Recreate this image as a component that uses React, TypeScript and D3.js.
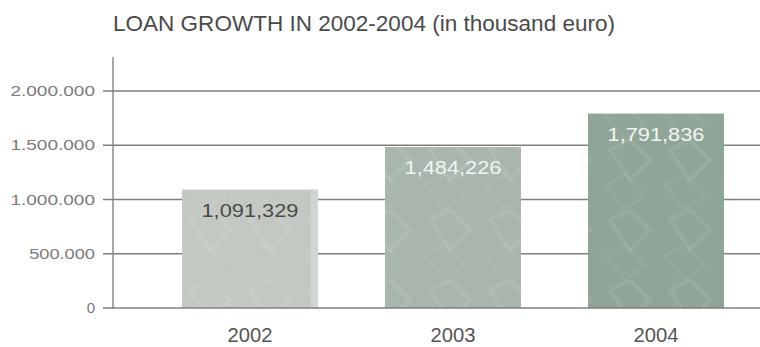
import React from "react";
import * as d3 from "d3";

const years = ["2002", "2003", "2004"];
const loans = [1091329, 1484226, 1791836];
const yTicks = [0, 500000, 1000000, 1500000, 2000000];
const yTickLabels = ["0", "500.000", "1.000.000", "1.500.000", "2.000.000"];
const barColors = ["#c3c9c2", "#a9b6ad", "#8fa597"];
const labelColors = ["#4a4a4a", "#f2f4f2", "#f2f4f2"];
const title = "LOAN GROWTH IN 2002-2004 (in thousand euro)";

const W = 760;
const H = 347;

export default function App() {
  const x = d3.scaleBand<string>().domain(years).range([115, 791]).paddingInner(0.33).paddingOuter(0.33);
  const y = d3.scaleLinear().domain([0, 2000000]).range([308, 91]);
  const fmt = d3.format(",");
  const axisX = 113;

  return (
    <svg
      width={W}
      height={H}
      style={{ position: "absolute", left: 0, top: 0, background: "#fff" }}
      fontFamily="'Liberation Sans', Arial, sans-serif"
    >
      <defs>
        <pattern id="tex" width="60" height="70" patternUnits="userSpaceOnUse">
          <path d="M10 10 L30 0 L50 20 L30 40 Z" fill="none" stroke="#ffffff" strokeOpacity="0.07" strokeWidth="4" />
          <path d="M5 45 L25 35 L45 55 L25 70 Z" fill="none" stroke="#ffffff" strokeOpacity="0.05" strokeWidth="3" />
        </pattern>
      </defs>
      <text x={113} y={31} fontSize={22} fill="#4a4a4a" textLength={502} lengthAdjust="spacingAndGlyphs">
        {title}
      </text>
      {yTicks.map((t, i) => (
        <g key={t}>
          {t !== 0 && (
            <line x1={103} x2={W} y1={y(t)} y2={y(t)} stroke="#7e7e7e" strokeWidth={1.5} />
          )}
          <text
            x={95}
            y={y(t) + 5}
            fontSize={15}
            fill="#7a7a7a"
            textAnchor="end"
            textLength={t === 0 ? undefined : yTickLabels[i].length * 9.4}
            lengthAdjust="spacingAndGlyphs"
          >
            {yTickLabels[i]}
          </text>
        </g>
      ))}
      {years.map((yr, i) => {
        const bx = x(yr)!;
        const bw = x.bandwidth();
        const top = y(loans[i]);
        return (
          <g key={yr}>
            <rect x={bx} y={top} width={bw} height={y(0) - top} fill={barColors[i]} />
            <rect x={bx} y={top} width={bw} height={y(0) - top} fill="url(#tex)" />
            {i === 0 && (
              <rect x={bx + bw - 7} y={top} width={7} height={y(0) - top} fill="#d2d6d2" />
            )}
            <text
              x={bx + bw / 2}
              y={top + 27}
              fontSize={18}
              fill={labelColors[i]}
              textAnchor="middle"
              textLength={97}
              lengthAdjust="spacingAndGlyphs"
            >
              {fmt(loans[i])}
            </text>
            <text
              x={bx + bw / 2}
              y={342}
              fontSize={21}
              fill="#555"
              textAnchor="middle"
              textLength={45}
              lengthAdjust="spacingAndGlyphs"
            >
              {yr}
            </text>
          </g>
        );
      })}
      <line x1={axisX} x2={axisX} y1={57} y2={309} stroke="#8a8a8a" strokeWidth={1.5} />
      <line x1={103} x2={W} y1={y(0)} y2={y(0)} stroke="#7e7e7e" strokeWidth={1.5} />
    </svg>
  );
}
